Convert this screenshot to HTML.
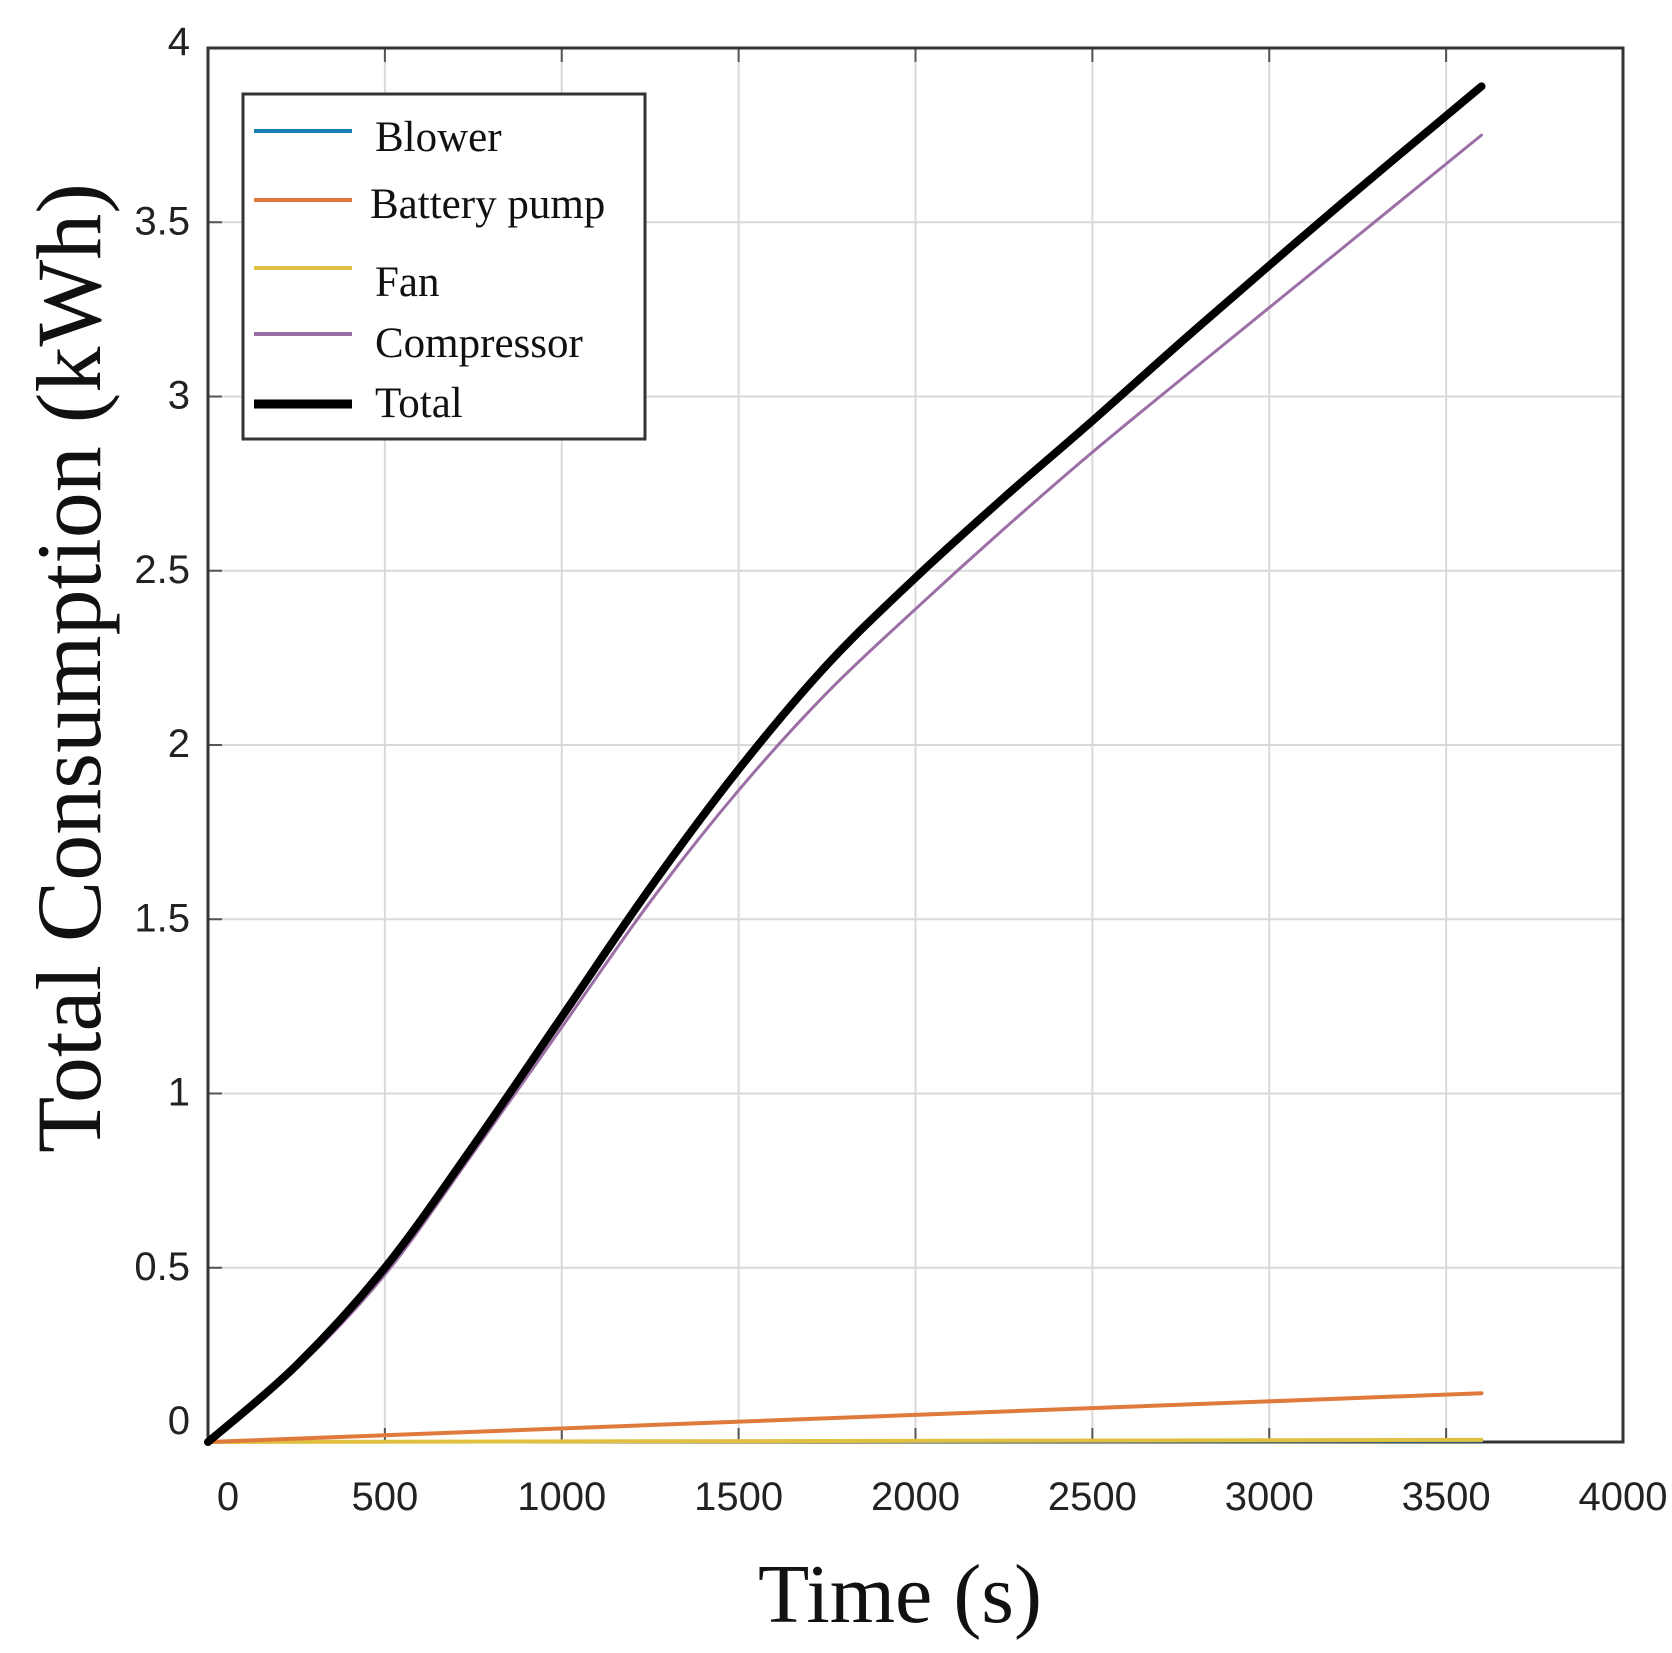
<!DOCTYPE html>
<html><head><meta charset="utf-8"><style>
html,body{margin:0;padding:0;background:#fff;}
svg{display:block;}
</style></head><body>
<svg id="s" width="1672" height="1653" viewBox="0 0 1672 1653" xmlns="http://www.w3.org/2000/svg">
<rect width="1672" height="1653" fill="#fff"/>
<g id="grid" stroke="#d9d9d9" stroke-width="2"></g>
<g id="ticks" stroke="#555" stroke-width="2"></g>
<rect x="208" y="48" width="1415" height="1394" fill="none" stroke="#333" stroke-width="3"/>
<g id="series" fill="none" stroke-linejoin="round" stroke-linecap="round"></g>
<g id="labels" font-family="Liberation Sans, sans-serif" font-size="40" fill="#222"></g>
<rect x="243" y="94" width="402" height="345" fill="#fff" stroke="#333" stroke-width="3"/>
<g font-family="Liberation Serif, serif" font-size="43" fill="#111">
<line x1="254" y1="131" x2="352" y2="131" stroke="#1a7fb5" stroke-width="4"/>
<text x="375" y="151">Blower</text>
<line x1="254" y1="200" x2="352" y2="200" stroke="#e07a3c" stroke-width="4"/>
<text x="370" y="218">Battery pump</text>
<line x1="254" y1="268" x2="352" y2="268" stroke="#e0c040" stroke-width="4"/>
<text x="375" y="296">Fan</text>
<line x1="254" y1="334" x2="352" y2="334" stroke="#9c6ea6" stroke-width="4"/>
<text x="375" y="357">Compressor</text>
<line x1="254" y1="404" x2="352" y2="404" stroke="#000" stroke-width="9"/>
<text x="375" y="417">Total</text>
</g>
<text x="0" y="0" transform="translate(100,668) rotate(-90)" text-anchor="middle" font-family="Liberation Serif, serif" font-size="92" fill="#111">Total Consumption (kWh)</text>
<text x="900" y="1622" text-anchor="middle" font-family="Liberation Serif, serif" font-size="84" fill="#111">Time (s)</text>
</svg>
<script>
var NS="http://www.w3.org/2000/svg";
function X(t){return 208+t*0.35375;}
function Y(v){return 1442-v*348.5;}
function el(p,tag,a,txt){var e=document.createElementNS(NS,tag);for(var k in a)e.setAttribute(k,a[k]);if(txt!==undefined)e.textContent=txt;document.getElementById(p).appendChild(e);}
for(var t=500;t<4000;t+=500){el("grid","line",{x1:X(t),y1:48,x2:X(t),y2:1442});}
for(var v=0.5;v<4;v+=0.5){el("grid","line",{x1:208,y1:Y(v),x2:1623,y2:Y(v)});}
for(var t=0;t<=4000;t+=500){el("ticks","line",{x1:X(t),y1:1442,x2:X(t),y2:1428});el("ticks","line",{x1:X(t),y1:48,x2:X(t),y2:62});
 el("labels","text",{x:X(t)+(t==0?20:0),y:1510,"text-anchor":"middle"},""+t);}
for(var i=0;i<=8;i++){var v=i/2;el("ticks","line",{x1:208,y1:Y(v),x2:222,y2:Y(v)});
 el("labels","text",{x:190,y:Y(v)+12+(i==0?-20:0)+(i==8?-5:0),"text-anchor":"end"},""+v);}
function smooth(pts){var d="M"+X(pts[0][0])+","+Y(pts[0][1]);
 for(var i=0;i<pts.length-1;i++){var p0=pts[i-1]||pts[i],p1=pts[i],p2=pts[i+1],p3=pts[i+2]||p2;
  var a=[X(p0[0]),Y(p0[1])],b=[X(p1[0]),Y(p1[1])],c=[X(p2[0]),Y(p2[1])],e=[X(p3[0]),Y(p3[1])];
  d+=" C"+(b[0]+(c[0]-a[0])/6)+","+(b[1]+(c[1]-a[1])/6)+" "+(c[0]-(e[0]-b[0])/6)+","+(c[1]-(e[1]-b[1])/6)+" "+c[0]+","+c[1];}
 return d;}
var total=[[0,0],[250,0.22],[500,0.5],[750,0.85],[1000,1.22],[1250,1.59],[1500,1.93],[1750,2.23],[2000,2.48],[2250,2.71],[2500,2.93],[2800,3.2],[3200,3.55],[3600,3.89]];
var comp=[[0,0],[250,0.21],[500,0.48],[750,0.83],[1000,1.19],[1250,1.55],[1500,1.87],[1750,2.15],[2000,2.39],[2250,2.62],[2500,2.84],[2800,3.09],[3200,3.42],[3600,3.75]];
el("series","path",{d:"M"+X(0)+","+Y(0)+" L"+X(3600)+","+Y(0.003),stroke:"#1a7fb5","stroke-width":3});
el("series","path",{d:"M"+X(0)+","+Y(0)+" L"+X(3600)+","+Y(0.006),stroke:"#e0c040","stroke-width":4});
el("series","path",{d:"M"+X(0)+","+Y(0)+" L"+X(3600)+","+Y(0.14),stroke:"#e07a3c","stroke-width":4});
el("series","path",{d:smooth(comp),stroke:"#9c6ea6","stroke-width":3});
el("series","path",{d:smooth(total),stroke:"#000","stroke-width":8});
</script>
</body></html>
